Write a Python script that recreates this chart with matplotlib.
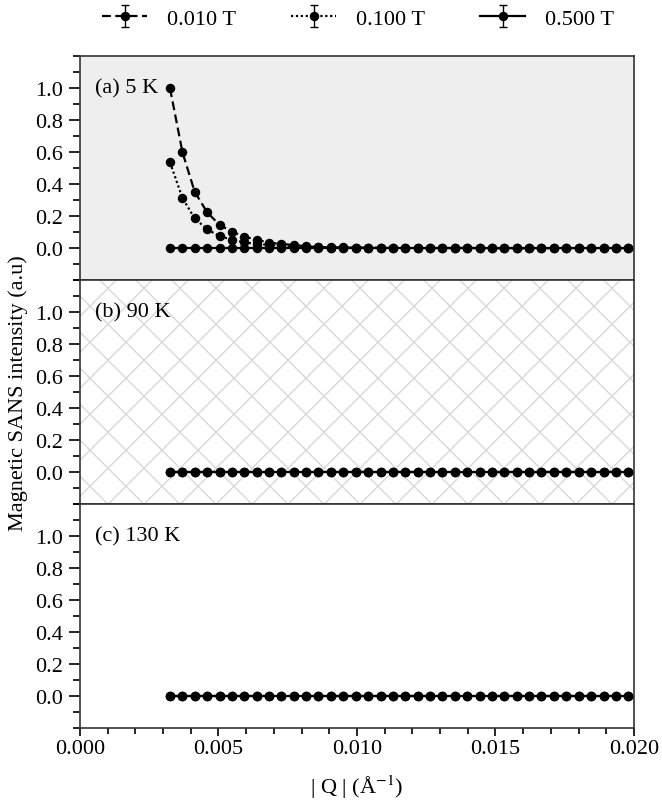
import matplotlib
matplotlib.use('Agg')
import matplotlib.pyplot as plt
from matplotlib.collections import LineCollection
from matplotlib.ticker import MultipleLocator

plt.rcParams['font.family'] = ['Liberation Serif', 'DejaVu Serif']
plt.rcParams['mathtext.fontset'] = 'stix'
plt.rcParams['font.size'] = 16

# |Q| grid (1/A)
q = [0.00325, 0.00370, 0.00414, 0.00459, 0.00504, 0.00549, 0.00593, 0.00638,
     0.00683, 0.00727, 0.00772, 0.00817, 0.00861, 0.00906, 0.00951, 0.00996,
     0.01040, 0.01085, 0.01130, 0.01174, 0.01219, 0.01264, 0.01308, 0.01353,
     0.01398, 0.01443, 0.01487, 0.01532, 0.01577, 0.01621, 0.01666, 0.01711,
     0.01755, 0.01800, 0.01845, 0.01890, 0.01934, 0.01979]

# (a) 5 K
a_010 = [1.000, 0.600, 0.354, 0.225, 0.146, 0.104, 0.073, 0.054, 0.035, 0.027,
         0.021, 0.012, 0.008, 0.006, 0.005, 0.004, 0.004, 0.003, 0.003, 0.003,
         0.002, 0.002, 0.002, 0.002, 0.002, 0.002, 0.001, 0.001, 0.001, 0.001,
         0.001, 0.001, 0.001, 0.001, 0.001, 0.001, 0.001, 0.001]
a_100 = [0.537, 0.314, 0.187, 0.119, 0.075, 0.054, 0.037, 0.027, 0.021, 0.015,
         0.010, 0.007, 0.005, 0.004, 0.003, 0.003, 0.002, 0.002, 0.002, 0.002,
         0.001, 0.001, 0.001, 0.001, 0.001, 0.001, 0.001, 0.001, 0.001, 0.001,
         0.001, 0.001, 0.001, 0.001, 0.001, 0.001, 0.001, 0.001]
a_500 = [0.0] * 38
# (b) 90 K and (c) 130 K: all fields flat at zero
b_010 = [0.0] * 38
b_100 = [0.0] * 38
b_500 = [0.0] * 38
c_010 = [0.0] * 38
c_100 = [0.0] * 38
c_500 = [0.0] * 38

fields = ['0.010 T', '0.100 T', '0.500 T']
styles = [(0, (4, 2)), (0, (1, 1.2)), '-']
panels = [('(a) 5 K', [a_010, a_100, a_500]),
          ('(b) 90 K', [b_010, b_100, b_500]),
          ('(c) 130 K', [c_010, c_100, c_500])]

fig, axes = plt.subplots(3, 1, sharex=True, figsize=(6.62, 8.04), dpi=100)
fig.subplots_adjust(left=0.1208, right=0.9577, bottom=0.0930, top=0.9287, hspace=0)

for ax, (label, series) in zip(axes, panels):
    handles = []
    for ys, name, ls in zip(series, fields, styles):
        h = ax.errorbar(q, ys, yerr=0, color='black', ls=ls, lw=1.6,
                        marker='o', ms=5.8, capsize=3, elinewidth=1,
                        label=name, zorder=3)
        handles.append(h)
    ax.set_ylim(-0.2, 1.2)
    ax.set_xlim(0, 0.02)
    ax.yaxis.set_minor_locator(MultipleLocator(0.1))
    ax.set_yticks([0.0, 0.2, 0.4, 0.6, 0.8, 1.0])
    ax.set_yticklabels(['0.0', '0.2', '0.4', '0.6', '0.8', '1.0'])
    ax.tick_params(axis='y', which='major', direction='out', length=8, width=1.2, pad=4)
    ax.tick_params(axis='y', which='minor', direction='out', length=5, width=1.2)
    ax.tick_params(axis='x', which='both', bottom=False)
    ax.text(0.027, 1.0, label, transform=ax.get_yaxis_transform(), va='center', ha='left')
    for sp in ax.spines.values():
        sp.set_color('#333333')
        sp.set_linewidth(1.2)

axes[0].set_facecolor('#eeeeee')

# cross hatch on the middle panel
ax = axes[1]
pos = ax.get_position()
W = pos.width * fig.get_figwidth() * fig.dpi
H = pos.height * fig.get_figheight() * fig.dpi
s = 36.0
segs = []
c = -H
while c < W + H:
    segs.append([(c / W, 0), ((c + H) / W, 1)])
    segs.append([(c / W, 0), ((c - H) / W, 1)])
    c += s
lc = LineCollection(segs, colors='#d8d8d8', linewidths=1.0, transform=ax.transAxes, zorder=0.5)
ax.add_collection(lc)
lc.set_clip_path(ax.patch)

ax3 = axes[2]
ax3.xaxis.set_minor_locator(MultipleLocator(0.001))
ax3.set_xticks([0.0, 0.005, 0.01, 0.015, 0.02])
ax3.set_xticklabels(['0.000', '0.005', '0.010', '0.015', '0.020'])
ax3.tick_params(axis='x', which='major', bottom=True, direction='out', length=6, width=1.2, pad=2)
ax3.tick_params(axis='x', which='minor', bottom=True, direction='out', length=4, width=1.2)
ax3.set_xlabel('| Q | (Å$^{-1}$)', labelpad=10)

fig.text(0.028, (0.0930 + 0.9287) / 2, 'Magnetic SANS intensity (a.u)', rotation=90,
         va='center', ha='center')

fig.legend(handles, fields, loc='center', bbox_to_anchor=(0.541, 0.976), ncol=3,
           frameon=False, handlelength=2.0, handletextpad=0.9, columnspacing=2.5)

fig.savefig('out.png', dpi=100)
